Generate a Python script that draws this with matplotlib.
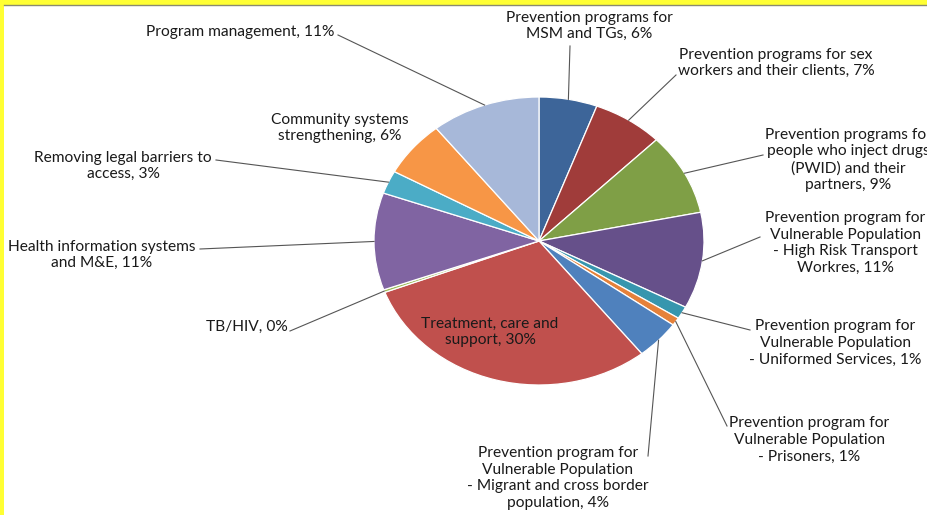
import numpy as np
import matplotlib
matplotlib.use("Agg")
from matplotlib import pyplot as plt
from matplotlib.patches import Rectangle

# slice data, clockwise from 12 o'clock
labels = [
    "Prevention programs for\nMSM and TGs, 6%",
    "Prevention programs for sex\nworkers and their clients, 7%",
    "Prevention programs for\npeople who inject drugs\n(PWID) and their\npartners, 9%",
    "Prevention program for\nVulnerable Population\n- High Risk Transport\nWorkres, 11%",
    "Prevention program for\nVulnerable Population\n- Uniformed Services, 1%",
    "Prevention program for\nVulnerable Population\n- Prisoners, 1%",
    "Prevention program for\nVulnerable Population\n- Migrant and cross border\npopulation, 4%",
    "Treatment, care and\nsupport, 30%",
    "TB/HIV, 0%",
    "Health information systems\nand M&E, 11%",
    "Removing legal barriers to\naccess, 3%",
    "Community systems\nstrengthening, 6%",
    "Program management, 11%",
]
values = [5.7, 6.9, 9.2, 10.8, 1.4, 0.9, 4.4, 29.9, 0.3, 10.9, 2.6, 6.3, 10.7]
colors = ["#3D6599", "#A03C3A", "#7F9F46", "#66508A", "#3796AE", "#E5813A",
          "#4F81BD", "#C0504D", "#9BBB59", "#8064A2", "#4BACC6", "#F79646",
          "#A7B8D9"]

# layout in pixels: label centre, leader start (None = no leader)
lab_xy = [(589, 26), (776, 63), (848, 160), (845, 243), (835, 343), (809, 440),
          (558, 478), (490, 332), (250, 327), (102, 255), (123, 166), (340, 128),
          (240, 32)]
lead_from = [(570, 46), (676, 75), (763, 155), (760, 237), (750, 330), (727, 426),
             (648, 456), None, (290, 331), (200, 249), (216, 160), None, (338, 35)]

CX, CY, RX, RY = 539, 241, 165, 144
W, H = 927, 515


def px(x, y):
    return (x - CX) / RX, (CY - y) / RY


fig = plt.figure(figsize=(W / 100, H / 100), dpi=100)
fig.patch.set_facecolor("#FFFF33")
bg = Rectangle((4 / W, 0), 1, 1 - 5 / H, transform=fig.transFigure,
               facecolor="white", edgecolor="none", zorder=-10)
fig.patches.append(bg)
fig.lines.append(plt.Line2D([4 / W, 1], [1 - 5 / H, 1 - 5 / H], transform=fig.transFigure,
                            color="#8a8a70", lw=1, zorder=-9))

ax = fig.add_axes([0, 0, 1, 1], zorder=5)
ax.patch.set_alpha(0)
wedges, _ = ax.pie(values, colors=colors, startangle=90, counterclock=False,
                   radius=1, center=(0, 0),
                   wedgeprops=dict(edgecolor="white", linewidth=0.9))
ax.set_aspect("auto")
x0, y0 = px(0, H)
x1, y1 = px(W, 0)
ax.set_xlim(x0, x1)
ax.set_ylim(y0, y1)
ax.axis("off")

for i, w in enumerate(wedges):
    tx, ty = px(*lab_xy[i])
    ha = "center"
    if i == 8:
        ha = "right"
        tx, ty = px(288, 327)
    ax.text(tx, ty, labels[i], ha=ha, va="center", multialignment="center",
            fontsize=11.2, family="Lato", color="#1a1a1a", linespacing=1.24)
    if lead_from[i] is not None:
        mid = np.deg2rad((w.theta1 + w.theta2) / 2)
        ex, ey = np.cos(mid), np.sin(mid)
        sx, sy = px(*lead_from[i])
        ax.plot([sx, ex], [sy, ey], color="#555555", lw=0.8)

fig.savefig("out.png", dpi=100)
